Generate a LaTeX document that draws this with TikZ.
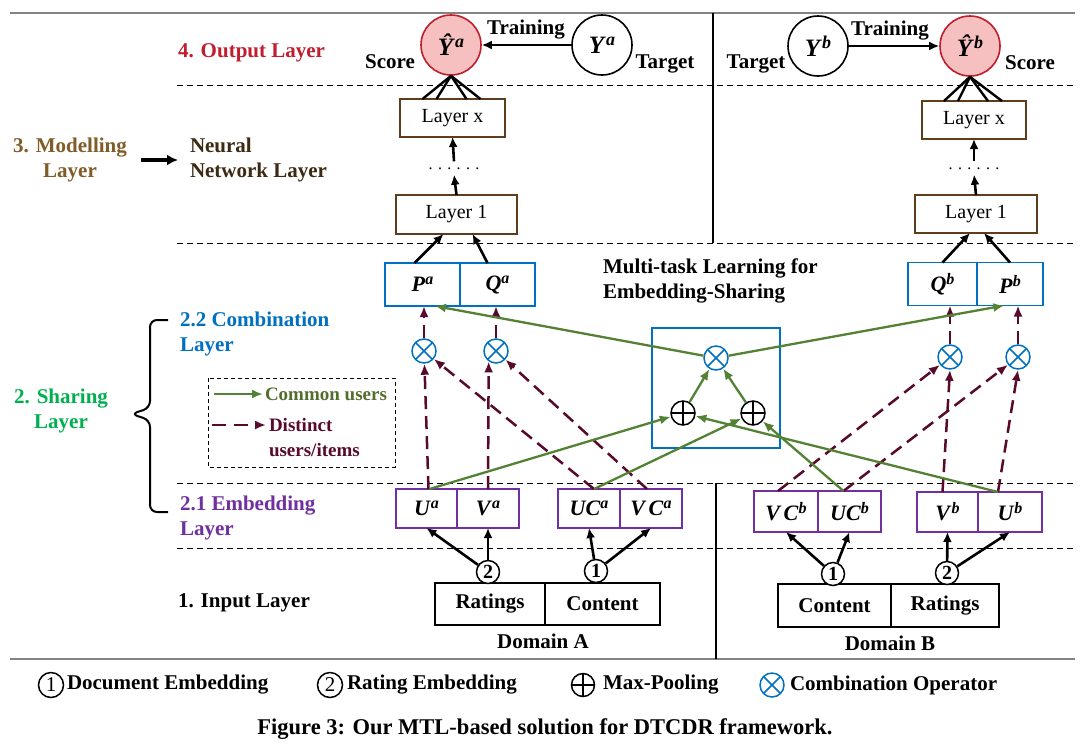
\documentclass[tikz,border=0pt]{standalone}
\usepackage{fontspec}
\setmainfont{Liberation Serif}
\usetikzlibrary{arrows.meta,calc}
\definecolor{outred}{RGB}{192,30,45}
\definecolor{modbrown}{RGB}{128,92,40}
\definecolor{nnbrown}{RGB}{60,42,18}
\definecolor{combblue}{RGB}{0,112,192}
\definecolor{sharegreen}{RGB}{0,176,80}
\definecolor{embpurple}{RGB}{112,48,160}
\definecolor{arrgreen}{RGB}{84,130,53}
\definecolor{mymaroon}{RGB}{88,10,45}
\definecolor{pinkfill}{RGB}{246,192,192}
\definecolor{layerbrown}{RGB}{94,60,30}
\definecolor{cugreen}{RGB}{84,110,45}
\definecolor{sepgray}{RGB}{130,130,130}
\newcommand{\mv}[2]{\textbf{\textit{#1}}\raisebox{7pt}{\fontsize{16}{16}\selectfont\textbf{\textit{#2}}}}
\newcommand{\mvy}[2]{\textbf{\textit{#1}}\raisebox{8pt}{\fontsize{18}{18}\selectfont\textbf{\textit{#2}}}}
\tikzset{
  lbl/.style={font=\fontsize{21}{25}\selectfont\bfseries, inner sep=0pt, outer sep=0pt, align=left},
  layerbox/.style={draw=layerbrown, line width=1.6pt, fill=white, inner sep=0pt, outer sep=0pt,
    font=\fontsize{20}{24}\selectfont},
  pqbox/.style={draw=combblue, line width=1.6pt, inner sep=0pt, outer sep=0pt,
    font=\fontsize{22}{24}\selectfont},
  embbox/.style={draw=embpurple, line width=1.6pt, inner sep=0pt, outer sep=0pt,
    font=\fontsize{22}{24}\selectfont},
  inbox/.style={draw=black, line width=1.8pt, inner sep=0pt, outer sep=0pt,
    font=\fontsize{21}{24}\selectfont\bfseries},
  yhat/.style={circle, draw=outred, fill=pinkfill, line width=1.6pt, minimum size=60pt, inner sep=0pt,
    font=\fontsize{25}{26}\selectfont},
  ycirc/.style={circle, draw=black, fill=white, line width=1.6pt, minimum size=60pt, inner sep=0pt,
    font=\fontsize{25}{26}\selectfont},
  otimesn/.style={circle, draw=combblue, fill=white, line width=1.5pt, minimum size=24pt, inner sep=0pt,
    path picture={\draw[combblue, line width=1.5pt]
      (path picture bounding box.north west) -- (path picture bounding box.south east)
      (path picture bounding box.north east) -- (path picture bounding box.south west);}},
  oplusn/.style={circle, draw=black, fill=white, line width=1.5pt, minimum size=24pt, inner sep=0pt,
    path picture={\draw[black, line width=1.5pt]
      (path picture bounding box.north) -- (path picture bounding box.south)
      (path picture bounding box.west) -- (path picture bounding box.east);}},
  numc/.style={circle, draw=black, fill=white, line width=1.5pt, minimum size=23pt, inner sep=0pt,
    font=\fontsize{20}{20}\selectfont\bfseries},
  legc/.style={circle, draw=black, fill=white, line width=1.5pt, minimum size=25pt, inner sep=0pt,
    font=\fontsize{21}{21}\selectfont},
  dline/.style={draw=black, line width=1pt, dash pattern=on 6pt off 4pt},
  sepline/.style={draw=sepgray, line width=2pt},
  vsep/.style={draw=black, line width=2.5pt},
  blkarrow/.style={draw=black, line width=2.6pt, -{Latex[length=10pt,width=9pt]}},
  fanline/.style={draw=black, line width=2.4pt},
  grarrow/.style={draw=arrgreen, line width=2.3pt, -{Latex[length=11pt,width=9pt]}},
  mrarrow/.style={draw=mymaroon, line width=2.5pt, dash pattern=on 13pt off 7pt, -{Latex[length=11pt,width=9pt]}},
  dotsn/.style={inner xsep=0pt, inner ysep=5pt, text height=3pt, text depth=0pt, font=\fontsize{16}{16}\selectfont}
}
\begin{document}
\begin{tikzpicture}[x=1pt, y=-1pt]
\useasboundingbox (0,0) rectangle (1083,748);
\fill[white] (0,0) rectangle (1083,748);

% separators
\draw[sepline] (10,13) -- (1075,13);
\draw[sepline] (10,659) -- (1075,659);
\draw[vsep] (713,13) -- (713,243);
\draw[vsep] (716,483) -- (716,659);
\foreach \yy in {85,243,483,548} \draw[dline] (177,\yy) -- (1075,\yy);

% left labels
\node[lbl, text=outred, anchor=west] (outl) at (178,53) {4. Output Layer};
\node[lbl, text=modbrown, align=center] (modl) at (70,160) {3. Modelling\\Layer};
\node[lbl, text=nnbrown, anchor=west] (nnl) at (190,160) {Neural\\Network Layer};
\draw[draw=black, line width=4pt, -{Latex[length=11pt,width=11pt]}] ([xshift=14pt]modl.east) -- ([xshift=-12pt]nnl.west);
\node[lbl, text=combblue, anchor=west] (combl) at (180,334) {2.2 Combination\\Layer};
\node[lbl, text=sharegreen, align=center] (sharel) at (61,411) {2. Sharing\\Layer};
\node[lbl, text=embpurple, anchor=west] (embl) at (180,518) {2.1 Embedding\\Layer};
\node[lbl, anchor=west] (inl) at (178,603) {1. Input Layer};
\node[lbl, anchor=west] (mtl) at (603,281) {Multi-task Learning for\\Embedding-Sharing};

% brace
\draw[black, line width=2pt, rounded corners=7pt] (168,320) -- (150,320) -- (150,408) -- (131,414) -- (150,420) -- (150,512) -- (168,512);

% legend box
\draw[black, line width=1pt, dash pattern=on 4pt off 3pt] (208,378) rectangle (395,467);
\coordinate (lga1) at (214,394);
\coordinate (lga2) at (263,394);
\coordinate (lgb1) at (212,425);
\coordinate (lgb2) at (266,425);
\draw[grarrow] (lga1) -- (lga2);
\draw[mrarrow, dash pattern=on 14pt off 8pt] (lgb1) -- (lgb2);
\node[lbl, text=cugreen, anchor=west, font=\fontsize{19}{24}\selectfont\bfseries] (lgt1) at (265,394) {Common users};
\node[lbl, text=mymaroon, anchor=west, font=\fontsize{19}{25}\selectfont\bfseries] (lgt2) at (269,438) {Distinct\\users/items};

% output layer
\node[yhat] (yha) at (451,45) {\mvy{\^{Y}}{a}};
\node[ycirc] (ya) at (602,45) {\mvy{Y}{a}};
\node[ycirc] (yb) at (818,46) {\mvy{Y}{b}};
\node[yhat] (yhb) at (970,46) {\mvy{\^{Y}}{b}};
\draw[blkarrow] (ya) -- (yha);
\draw[blkarrow] (yb) -- (yhb);
\node[lbl] (tra) at (526,30) {Training};
\node[lbl] (trb) at (890,31) {Training};
\node[lbl] (sca) at (390,62) {Score};
\node[lbl] (tga) at (665,64) {Target};
\node[lbl] (tgb) at (756,64) {Target};
\node[lbl] (scb) at (1030,63) {Score};

% modelling layer
\node[layerbox, minimum width=105pt, minimum height=38pt] (lxa) at (452.5,118) {Layer x};
\node[layerbox, minimum width=104pt, minimum height=38pt] (lxb) at (974,120) {Layer x};
\node[layerbox, minimum width=121pt, minimum height=39pt] (l1a) at (456.5,214.5) {Layer 1};
\node[layerbox, minimum width=122pt, minimum height=38pt] (l1b) at (976,214) {Layer 1};
\node[dotsn] (dta) at (454,168) {. . . . . .};
\node[dotsn] (dtb) at (974,168) {. . . . . .};
\draw[blkarrow] (l1a.north) -- (dta.south);
\draw[blkarrow] (dta.north) -- (lxa.south);
\draw[blkarrow] (l1b.north) -- (dtb.south);
\draw[blkarrow] (dtb.north) -- (lxb.south);
\foreach \dx in {-30,-16,14,28} {
  \draw[fanline] (yha.south) -- ([xshift=\dx pt]lxa.north);
  \draw[fanline] (yhb.south) -- ([xshift=\dx pt]lxb.north);
}

% combination layer boxes
\node[pqbox, minimum width=75pt, minimum height=43pt] (pa) at (422.5,284.5) {\mv{P}{a}};
\node[pqbox, minimum width=75pt, minimum height=43pt] (qa) at (497.5,284.5) {\mv{Q}{a}};
\node[pqbox, minimum width=69pt, minimum height=43pt] (qb) at (942.5,284) {\mv{Q}{b}};
\node[pqbox, minimum width=66pt, minimum height=43pt] (pb) at (1010,284) {\mv{P}{b}};
\draw[blkarrow] ([xshift=-8pt]pa.north) -- ([xshift=-13pt]l1a.south);
\draw[blkarrow] ([xshift=-10pt]qa.north) -- ([xshift=16pt]l1a.south);
\draw[blkarrow] (qb.north) -- ([xshift=-6pt]l1b.south);
\draw[blkarrow] (pb.north) -- ([xshift=8pt]l1b.south);

% central MTL box
\node[draw=combblue, line width=1.6pt, minimum width=128pt, minimum height=120pt, inner sep=0pt] (cbox) at (716,388) {};

% operators
\node[otimesn] (o1) at (424,351) {};
\node[otimesn] (o2) at (496,351) {};
\node[otimesn] (oc) at (716,358) {};
\node[otimesn] (o3) at (950,357) {};
\node[otimesn] (o4) at (1018,357) {};
\node[oplusn] (pl) at (683,413) {};
\node[oplusn] (pr) at (753,413) {};

% embedding boxes
\node[embbox, minimum width=61pt, minimum height=39pt] (ua) at (426.5,508.5) {\mv{U}{a}};
\node[embbox, minimum width=62pt, minimum height=39pt] (va) at (488,508.5) {\mv{V}{a}};
\node[embbox, minimum width=62pt, minimum height=39pt] (uca) at (589,508.5) {\mv{UC}{a}};
\node[embbox, minimum width=62pt, minimum height=39pt] (vca) at (651,508.5) {\mv{V\,C}{a}};
\node[embbox, minimum width=64pt, minimum height=41pt] (vcb) at (786,511.5) {\mv{V\,C}{b}};
\node[embbox, minimum width=63pt, minimum height=41pt] (ucb) at (849.5,511.5) {\mv{UC}{b}};
\node[embbox, minimum width=61pt, minimum height=40pt] (vb) at (947.5,512) {\mv{V}{b}};
\node[embbox, minimum width=64pt, minimum height=40pt] (ub) at (1010,512) {\mv{U}{b}};

% maroon dashed connectors
\draw[mrarrow] ([xshift=2pt]ua.north) -- (o1);
\draw[mrarrow] (va.north) -- (o2.235);
\draw[mrarrow] ([xshift=5pt]uca.north) -- (o1);
\draw[mrarrow] ([xshift=-4pt]vca.north) -- (o2);
\draw[mrarrow] (o1.north) -- (o1.north |- pa.south);
\draw[mrarrow] (o2.north) -- (o2.north |- qa.south);
\draw[mrarrow] ([xshift=-8pt]vcb.north) -- (o3);
\draw[mrarrow] ([xshift=-6pt]ucb.north) -- (o4);
\draw[mrarrow] ([xshift=-5pt]vb.north) -- (o3.south);
\draw[mrarrow] ([xshift=-12pt]ub.north) -- (o4.south);
\draw[mrarrow] (o3.north) -- (o3.north |- qb.south);
\draw[mrarrow] (o4.north) -- (o4.north |- pb.south);

% green connectors
\draw[grarrow] ([xshift=3pt]ua.north) -- (pl);
\draw[grarrow] ([xshift=5pt]uca.north) -- (pr);
\draw[grarrow] ([xshift=-6pt]ucb.north) -- (pr);
\draw[grarrow] ([xshift=-12pt]ub.north) -- (pl);
\draw[grarrow] (pl) -- (oc);
\draw[grarrow] (pr) -- (oc);
\draw[grarrow] (oc) -- (pa.-60);
\draw[grarrow] (oc) -- (pb.-105);

% input layer
\node[inbox, minimum width=110pt, minimum height=42pt] (rta) at (490,604) {Ratings};
\node[inbox, minimum width=115pt, minimum height=42pt] (cta) at (602.5,604) {Content};
\node[inbox, minimum width=113pt, minimum height=43pt] (ctb) at (834.5,605.5) {Content};
\node[inbox, minimum width=108pt, minimum height=43pt] (rtb) at (945,605.5) {Ratings};
\node[numc] (n2a) at (488,572) {2};
\node[numc] (n1a) at (596,571) {1};
\node[numc] (n1b) at (833,574) {1};
\node[numc] (n2b) at (947,573) {2};
\draw[blkarrow] (n2a) -- (ua.south);
\draw[blkarrow] (n2a) -- (va.south);
\draw[blkarrow] (n1a) -- (uca.south);
\draw[blkarrow] (n1a) -- (vca.south);
\draw[blkarrow] (n1b) -- (vcb.south);
\draw[blkarrow] (n1b) -- (ucb.south);
\draw[blkarrow] (n2b) -- (vb.south);
\draw[blkarrow] (n2b) -- (ub.south);
\node[lbl] (doma) at (543,641) {Domain A};
\node[lbl] (domb) at (890,643) {Domain B};

% bottom legend
\node[legc] (lg1) at (51,685) {1};
\node[lbl, anchor=west] (lt1) at (67,685) {Document Embedding};
\node[legc] (lg2) at (330,685) {2};
\node[lbl, anchor=west] (lt2) at (347,685) {Rating Embedding};
\node[oplusn, minimum size=23pt] (lg3) at (583,685) {};
\node[lbl, anchor=west] (lt3) at (603,685) {Max-Pooling};
\node[otimesn, minimum size=24pt] (lg4) at (772,685) {};
\node[lbl, anchor=west] (lt4) at (790,685) {Combination Operator};

% caption
\node[lbl, font=\fontsize{22.5}{26}\selectfont\bfseries] (cap) at (545,729) {Figure 3: Our MTL-based solution for DTCDR framework.};
\end{tikzpicture}
\end{document}
